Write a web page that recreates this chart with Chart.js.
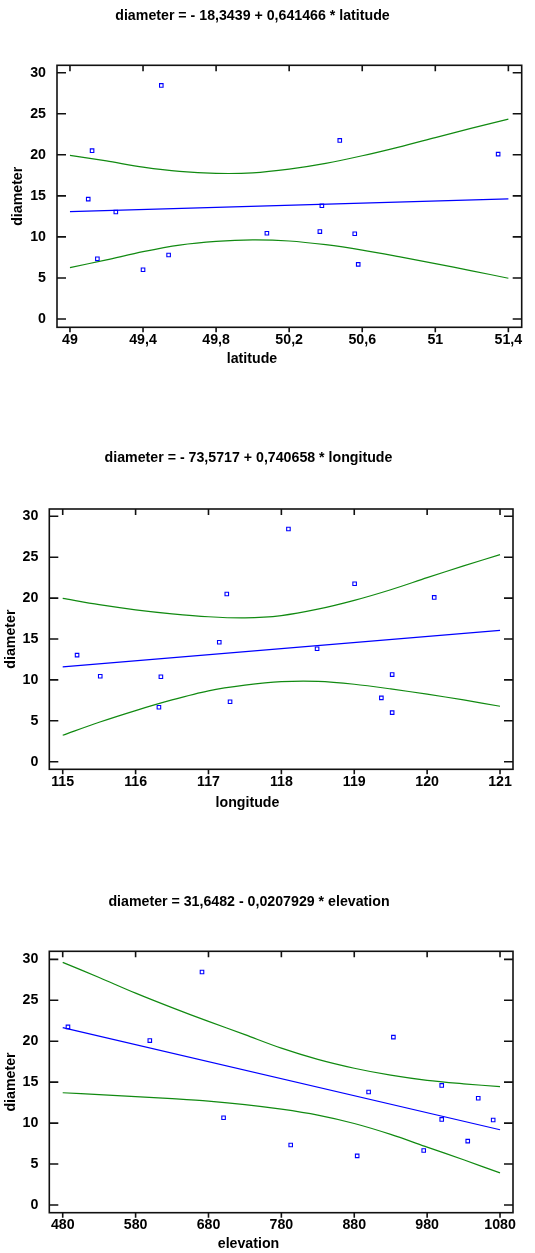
<!DOCTYPE html>
<html><head><meta charset="utf-8">
<script src="https://cdn.jsdelivr.net/npm/chart.js@4.4.1/dist/chart.umd.min.js"></script>
<style>
body{margin:0;background:#fff;width:535px;height:1253px;position:relative;overflow:hidden;font-family:"Liberation Sans",Arial,sans-serif;}
canvas{position:absolute;left:0;}
.t{position:absolute;font-weight:bold;font-size:14.2px;white-space:nowrap;transform:translate(-50%,-50%);color:#000;line-height:1;}
</style></head><body>
<canvas id="c1" width="535" height="380" style="top:0px"></canvas>
<canvas id="c2" width="535" height="400" style="top:420px"></canvas>
<canvas id="c3" width="535" height="393" style="top:860px"></canvas>
<div class="t" style="left:252.5px;top:15px">diameter = - 18,3439 + 0,641466 * latitude</div>
<div class="t" style="left:252px;top:358px">latitude</div>
<div class="t" style="left:248.5px;top:457.3px">diameter = - 73,5717 + 0,740658 * longitude</div>
<div class="t" style="left:247.5px;top:801.7px">longitude</div>
<div class="t" style="left:249px;top:901px">diameter = 31,6482 - 0,0207929 * elevation</div>
<div class="t" style="left:248.5px;top:1243.3px">elevation</div>
<script>
// ---- data ----
const diameter  = [28.45, 21.75, 20.5, 20.08, 14.6, 13.8, 13.03, 10.65, 10.45, 10.38, 7.8, 7.33, 6.65, 6.0];
const latitude  = [49.50, 50.477, 49.121, 51.344, 49.10, 50.379, 49.251, 50.368, 50.078, 50.559, 49.54, 49.15, 50.578, 49.40];
const longitude = [118.097, 119.005, 117.251, 120.097, 117.148, 118.49, 115.197, 119.52, 115.515, 116.347, 119.372, 117.296, 116.32, 119.52];
const elevation = [671.1, 487.2, 933.7, 599.5, 1000.0, 899.7, 1050.1, 700.7, 1000.0, 1070.6, 1035.7, 792.8, 975.3, 884.0];

const latFitX = [49, 51.4];
const latFit  = [13.09, 14.63];
const lonFitX = [115, 121];
const lonFit  = [11.6, 16.05];
const elevFitX = [480, 1080];
const elevFit  = [21.67, 9.19];

const latBandX = [49, 49.2, 49.4, 49.6, 49.8, 50.0, 50.2, 50.4, 50.6, 50.8, 51.0, 51.2, 51.4];
const latUpper = [19.92, 19.25, 18.5, 17.97, 17.74, 17.8, 18.25, 18.95, 19.88, 20.94, 22.1, 23.25, 24.35];
const latLower = [6.26, 7.2, 8.2, 9.0, 9.45, 9.63, 9.5, 9.05, 8.4, 7.6, 6.75, 5.87, 4.96];

const lonBandX = [115, 115.5, 116, 116.5, 117, 117.5, 118, 118.5, 119, 119.5, 120, 120.5, 121];
const lonUpper = [19.96, 19.19, 18.57, 18.08, 17.72, 17.58, 17.86, 18.64, 19.72, 21.02, 22.5, 23.93, 25.31];
const lonLower = [3.23, 4.82, 6.25, 7.55, 8.66, 9.35, 9.78, 9.82, 9.47, 8.9, 8.25, 7.55, 6.78];

const elevBandX = [480, 530, 580, 630, 680, 730, 780, 830, 880, 930, 980, 1030, 1080];
const elevUpper = [29.63, 27.78, 25.87, 24.1, 22.42, 20.8, 19.15, 17.78, 16.7, 15.85, 15.22, 14.8, 14.45];
const elevLower = [13.71, 13.49, 13.24, 12.98, 12.68, 12.26, 11.7, 10.97, 9.95, 8.62, 7.07, 5.52, 3.92];

const latTicks  = [49, 49.4, 49.8, 50.2, 50.6, 51, 51.4];
const lonTicks  = [115, 116, 117, 118, 119, 120, 121];
const elevTicks = [480, 580, 680, 780, 880, 980, 1080];
const diamTicks = [0, 5, 10, 15, 20, 25, 30];

// ---- drawing ----
const BLUE = '#0000ff', GREEN = '#118a11';
const FONT = {family: '"Liberation Sans", Arial, sans-serif', size: 14.2, weight: 'bold'};

const pairs = (xs, ys) => xs.map((v, i) => ({x: v, y: ys[i]}));

const framePlugin = {
  id: 'frame',
  afterDatasetsDraw(chart) {
    const {ctx, chartArea: a, scales: {x, y}} = chart;
    ctx.save();
    ctx.strokeStyle = '#111';
    ctx.lineWidth = 1.6;
    ctx.strokeRect(a.left, a.top, a.right - a.left, a.bottom - a.top);
    ctx.beginPath();
    y.ticks.forEach(t => {
      const py = y.getPixelForValue(t.value);
      ctx.moveTo(a.left, py); ctx.lineTo(a.left + 9, py);
      ctx.moveTo(a.right, py); ctx.lineTo(a.right - 9, py);
    });
    x.ticks.forEach(t => {
      const px = x.getPixelForValue(t.value);
      ctx.moveTo(px, a.top); ctx.lineTo(px, a.top + 6);
      ctx.moveTo(px, a.bottom); ctx.lineTo(px, a.bottom + 5);
    });
    ctx.stroke();
    ctx.restore();
  }
};

function makeChart(id, cfg) {
  const fmt = v => String(v).replace('.', ',');
  new Chart(document.getElementById(id), {
    type: 'scatter',
    data: {
      datasets: [
        {data: pairs(cfg.bandX, cfg.upper), showLine: true, borderColor: GREEN, borderWidth: 1.2, pointRadius: 0, fill: false, tension: 0.3},
        {data: pairs(cfg.bandX, cfg.lower), showLine: true, borderColor: GREEN, borderWidth: 1.2, pointRadius: 0, fill: false, tension: 0.3},
        {data: pairs(cfg.fitX, cfg.fit), showLine: true, borderColor: BLUE, borderWidth: 1.2, pointRadius: 0, fill: false},
        {data: pairs(cfg.xs, diameter), showLine: false, pointStyle: 'rect', pointRadius: 2.5, borderWidth: 1.1, borderColor: BLUE, backgroundColor: '#ffffff'}
      ]
    },
    options: {
      responsive: false, animation: false, devicePixelRatio: 1, events: [],
      layout: {padding: {top: cfg.padTop, right: cfg.padRight, left: 0, bottom: 0}},
      plugins: {legend: {display: false}, tooltip: {enabled: false}, title: {display: false}},
      scales: {
        x: {
          type: 'linear', min: cfg.xMin, max: cfg.xMax,
          grid: {display: false, drawTicks: false}, border: {display: false},
          ticks: {font: FONT, color: '#000', padding: 4, maxRotation: 0, autoSkip: false, callback: fmt},
          afterBuildTicks: s => { s.ticks = cfg.xTicks.map(v => ({value: v})); },
          afterFit: s => { s.height = cfg.xHeight; s.paddingLeft = 0; s.paddingRight = 0; }
        },
        y: {
          type: 'linear', min: cfg.yMin, max: cfg.yMax,
          grid: {display: false, drawTicks: false}, border: {display: false},
          ticks: {font: FONT, color: '#000', padding: 11, autoSkip: false, callback: fmt},
          title: {display: true, text: 'diameter', font: FONT, color: '#000', padding: {top: cfg.yTitlePad, bottom: 0}},
          afterBuildTicks: s => { s.ticks = diamTicks.map(v => ({value: v})); },
          afterFit: s => { s.width = cfg.yWidth; s.paddingTop = 0; s.paddingBottom = 0; }
        }
      }
    },
    plugins: [framePlugin]
  });
}

makeChart('c1', {
  xs: latitude, fitX: latFitX, fit: latFit, bandX: latBandX, upper: latUpper, lower: latLower, xTicks: latTicks,
  xMin: 48.929, xMax: 51.473, yMin: -1.01, yMax: 30.9,
  padTop: 65.3, padRight: 13.3, xHeight: 52.7, yWidth: 57, yTitlePad: 10
});
makeChart('c2', {
  xs: longitude, fitX: lonFitX, fit: lonFit, bandX: lonBandX, upper: lonUpper, lower: lonLower, xTicks: lonTicks,
  xMin: 114.816, xMax: 121.178, yMin: -0.93, yMax: 30.89,
  padTop: 89, padRight: 22, xHeight: 50.7, yWidth: 49.3, yTitlePad: 2.5
});
makeChart('c3', {
  xs: elevation, fitX: elevFitX, fit: elevFit, bandX: elevBandX, upper: elevUpper, lower: elevLower, xTicks: elevTicks,
  xMin: 461.6, xMax: 1097.8, yMin: -0.94, yMax: 30.98,
  padTop: 91.3, padRight: 22, xHeight: 40.3, yWidth: 49.3, yTitlePad: 2.5
});
</script>
</body></html>
